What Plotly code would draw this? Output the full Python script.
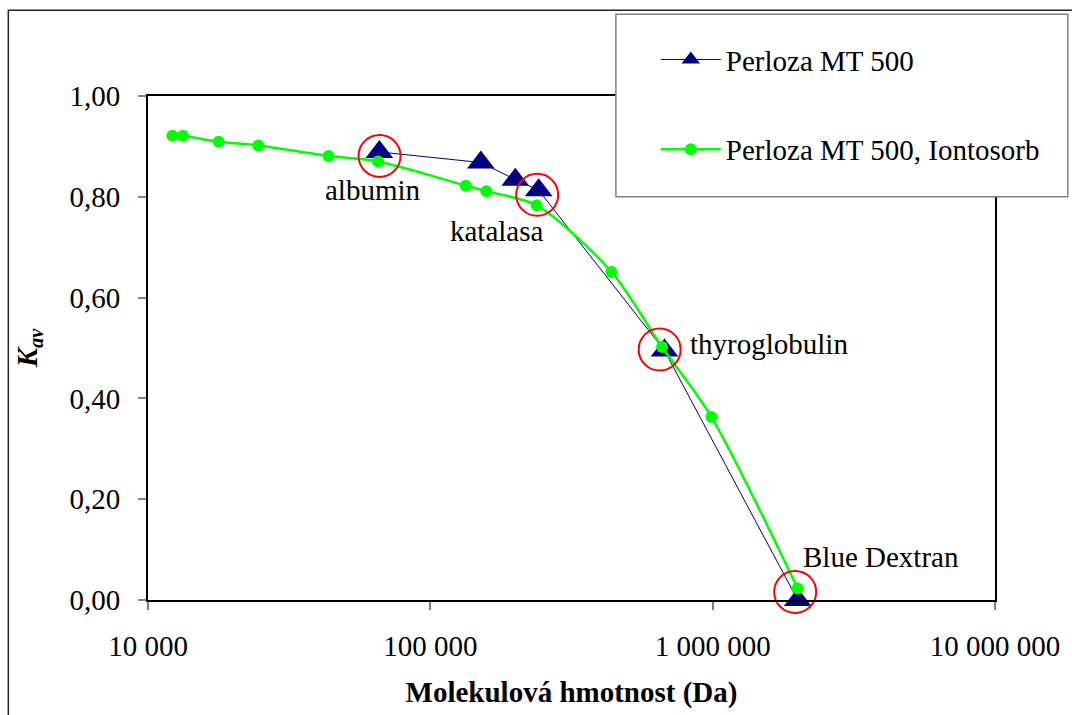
import math
import plotly.graph_objects as go

# ---- data ----
blue_name = "Perloza MT 500"
blue_x = [66000, 151000, 200000, 242000, 675000, 2000000]
blue_y = [0.889, 0.868, 0.834, 0.813, 0.495, 0.0]

green_name = "Perloza MT 500, Iontosorb"
green_x = [12200, 13300, 17800, 24600, 43600, 65300, 133600, 158000, 238000,
           438000, 662000, 990000, 2000000]
green_y = [0.921, 0.921, 0.909, 0.902, 0.881, 0.870, 0.822, 0.811, 0.783,
           0.651, 0.502, 0.363, 0.023]

circle_x = [66100, 239000, 649000, 1960000]
circle_y = [0.881, 0.804, 0.497, 0.016]
circle_labels = ["albumin", "katalasa", "thyroglobulin", "Blue Dextran"]

x_tickvals = [10000, 100000, 1000000, 10000000]
x_ticktext = ["10 000", "100 000", "1 000 000", "10 000 000"]
y_tickvals = [0.0, 0.2, 0.4, 0.6, 0.8, 1.0]
y_ticktext = ["0,00", "0,20", "0,40", "0,60", "0,80", "1,00"]

FONT = "Liberation Serif, Times New Roman, serif"
FS = 29

fig = go.Figure()
fig.add_trace(go.Scatter(
    x=blue_x, y=blue_y, name=blue_name, mode="lines+markers",
    line=dict(color="#000080", width=1),
    marker=dict(symbol="triangle-up", size=24, color="#000080"),
    cliponaxis=False, legendgroup="a"))
fig.add_trace(go.Scatter(
    x=green_x, y=green_y, name=green_name, mode="lines+markers",
    line=dict(color="#00FF00", width=2.5, shape="spline", smoothing=0.8),
    marker=dict(symbol="circle", size=12, color="#00FF00"),
    cliponaxis=False, legendgroup="b"))
fig.add_trace(go.Scatter(
    x=circle_x, y=circle_y, mode="markers", showlegend=False,
    marker=dict(symbol="circle-open", size=42, color="#FF0000",
                line=dict(width=2, color="#FF0000")),
    cliponaxis=False, hoverinfo="skip"))

# label offsets (pixels) relative to circle centres
offsets = [(-7, -34, "center"), (-40, -36, "center"), (28, 6, "left"), (86, 35, "center")]
for xv, yv, lab, (dx, dy, xa) in zip(circle_x, circle_y, circle_labels, offsets):
    fig.add_annotation(x=math.log10(xv), y=yv, text=lab, showarrow=False,
                       xshift=dx, yshift=dy, xanchor=xa, yanchor="middle",
                       font=dict(family=FONT, size=FS, color="black"))

L, R, T, B = 148, 997, 96, 601
W, H = 1072, 715
pw, ph = R - L, B - T

def px(xp):
    return (xp - L) / pw

def py(yp):
    return (B - yp) / ph

# legend box
fig.add_shape(type="rect", xref="paper", yref="paper",
              x0=px(617), x1=px(1070), y0=py(197), y1=py(14),
              fillcolor="white", line=dict(color="#808080", width=1.5),
              layer="above")
# outer chart border
fig.add_shape(type="rect", xref="paper", yref="paper",
              x0=px(8), x1=px(1090), y0=py(730), y1=py(10),
              fillcolor="rgba(0,0,0,0)", line=dict(color="#222222", width=1.5),
              layer="below")

fig.update_layout(
    width=W, height=H,
    margin=dict(l=L, r=W - R, t=T, b=H - B),
    paper_bgcolor="white", plot_bgcolor="white",
    font=dict(family=FONT, size=FS, color="black"),
    showlegend=True,
    legend=dict(x=px(657), y=py(34), xanchor="left", yanchor="top",
                bgcolor="rgba(0,0,0,0)", borderwidth=0,
                font=dict(family=FONT, size=FS, color="black"),
                traceorder="grouped", tracegroupgap=49, itemwidth=60),
    xaxis=dict(type="log", range=[4, 7], tickvals=x_tickvals, ticktext=x_ticktext,
               showgrid=False, zeroline=False, showline=True, linecolor="black",
               linewidth=2, mirror=True, ticks="outside", ticklen=8,
               tickcolor="#808080", tickwidth=1.5, ticklabelstandoff=11,
               tickfont=dict(family=FONT, size=FS),
               title=dict(text="<b>Molekulová hmotnost (Da)</b>", standoff=21,
                          font=dict(family=FONT, size=FS))),
    yaxis=dict(range=[0, 1], tickvals=y_tickvals, ticktext=y_ticktext,
               showgrid=False, zeroline=False, showline=True, linecolor="black",
               linewidth=2, mirror=True, ticks="outside", ticklen=8,
               tickcolor="#808080", tickwidth=1.5, ticklabelstandoff=12,
               tickfont=dict(family=FONT, size=FS),
               title=dict(text="<b><i>K<sub>av</sub></i></b>", standoff=23,
                          font=dict(family=FONT, size=FS))),
)

fig.write_html("out.html")
